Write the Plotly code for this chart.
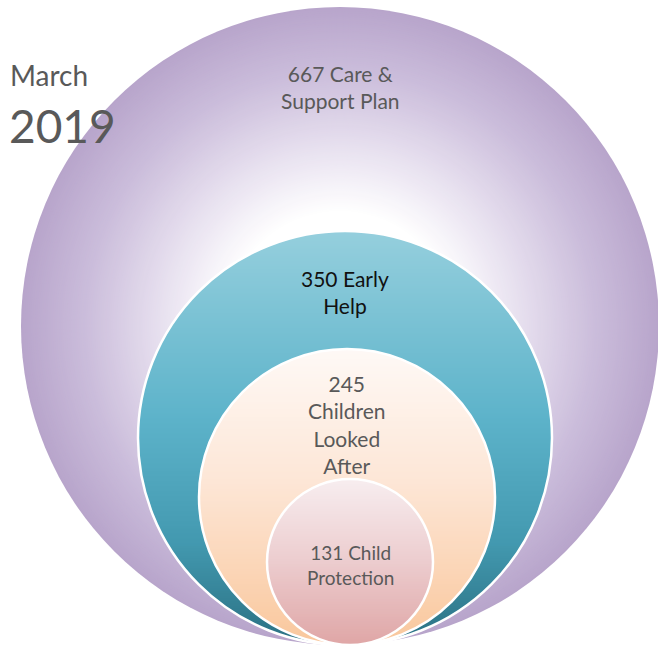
import numpy as np
import plotly.graph_objects as go

# Caseload figures for each nested service level
counts = [667, 350, 245, 131]
services = ["Care & Support Plan", "Early Help", "Children Looked After", "Child Protection"]
label_lines = [
    [f"{counts[0]} Care &", "Support Plan"],
    [f"{counts[1]} Early", "Help"],
    [f"{counts[2]}", "Children", "Looked", "After"],
    [f"{counts[3]} Child", "Protection"],
]
period_lines = ["March", "2019"]

W, H = 658, 649
GREY = "#595959"
FONT = "Lato"

# Circle layout (pixel space): centre x, centre y, radius
rings = [
    (340, 326, 319),
    (345, 438, 207),
    (347, 497, 148),
    (350, 562, 83),
]

# Colour stops (fraction, hex)
purple_stops = [(0.0, "#ffffff"), (0.36, "#ffffff"), (0.6, "#e3dbec"),
                (0.8, "#cbbddb"), (1.0, "#b8a5cb")]
teal_stops = [(0.0, "#95cfdd"), (0.45, "#5db3ca"), (0.75, "#4399b0"), (1.0, "#2a7082")]
peach_stops = [(0.0, "#fef9f6"), (0.45, "#fde6d6"), (1.0, "#f9c79c")]
rose_stops = [(0.0, "#f7eef0"), (0.5, "#ecccce"), (1.0, "#dfa6a6")]


def hex_rgb(h):
    h = h.lstrip("#")
    return np.array([int(h[i:i + 2], 16) for i in (0, 2, 4)], dtype=float)


def mix(stops, f):
    f = min(max(f, 0.0), 1.0)
    for (f0, c0), (f1, c1) in zip(stops[:-1], stops[1:]):
        if f <= f1:
            t = 0 if f1 == f0 else (f - f0) / (f1 - f0)
            c = hex_rgb(c0) * (1 - t) + hex_rgb(c1) * t
            return "rgb(%d,%d,%d)" % tuple(np.round(c))
    return "rgb(%d,%d,%d)" % tuple(hex_rgb(stops[-1][1]))


shapes = []

# Outer ring: radial fade from white centre to lilac rim
cx, cy, r = rings[0]
for d in np.arange(r, 0, -2.0):
    shapes.append(dict(type="circle", xref="x", yref="y",
                       x0=cx - d, x1=cx + d, y0=cy - d, y1=cy + d,
                       fillcolor=mix(purple_stops, d / r), line=dict(width=0),
                       layer="below"))


def vertical_fill(cx, cy, r, stops, step=2.5):
    """Stack circular segments top-to-bottom to shade a circle vertically."""
    out = []
    top = cy - r
    for ya in np.arange(top, cy + r, step):
        s = (ya - cy) / r
        a0 = np.arcsin(np.clip(s, -1, 1))
        t = np.linspace(a0, np.pi - a0, 90)
        xs = cx + r * np.cos(t)
        ys = cy + r * np.sin(t)
        path = "M " + " L ".join(f"{x:.2f},{y:.2f}" for x, y in zip(xs, ys)) + " Z"
        frac = (ya + step / 2 - top) / (2 * r)
        out.append(dict(type="path", xref="x", yref="y", path=path,
                        fillcolor=mix(stops, frac), line=dict(width=0),
                        layer="below"))
    return out


for (cx, cy, r), stops in zip(rings[1:], [teal_stops, peach_stops, rose_stops]):
    shapes.extend(vertical_fill(cx, cy, r, stops))
    shapes.append(dict(type="circle", xref="x", yref="y",
                       x0=cx - r, x1=cx + r, y0=cy - r, y1=cy + r,
                       fillcolor="rgba(0,0,0,0)", line=dict(color="white", width=2.5),
                       layer="below"))

fig = go.Figure()
fig.add_trace(go.Scatter(x=[0, W], y=[0, H], mode="markers",
                         marker=dict(opacity=0), hoverinfo="skip", showlegend=False))

label_pos = [(340, 87), (345, 292), (347, 424), (350, 565)]
label_colour = [GREY, "#111111", GREY, GREY]
label_size = [21, 21, 21, 19]
for lines, (x, y), col, sz in zip(label_lines, label_pos, label_colour, label_size):
    fig.add_annotation(x=x, y=y, xref="x", yref="y", text="<br>".join(lines),
                       showarrow=False, font=dict(family=FONT, size=sz, color=col),
                       align="center")

# Date caption at the left edge
fig.add_annotation(x=8, y=75, xref="x", yref="y", text=period_lines[0], xanchor="left",
                   showarrow=False, font=dict(family=FONT, size=28, color=GREY))
fig.add_annotation(x=7, y=125, xref="x", yref="y", text=period_lines[1], xanchor="left",
                   showarrow=False, font=dict(family=FONT, size=46, color=GREY))

fig.update_layout(
    width=W, height=H, margin=dict(l=0, r=0, t=0, b=0),
    paper_bgcolor="white", plot_bgcolor="white",
    xaxis=dict(range=[0, W], visible=False, fixedrange=True),
    yaxis=dict(range=[H, 0], visible=False, fixedrange=True),
    shapes=shapes, showlegend=False,
)

fig.write_html("out.html")
